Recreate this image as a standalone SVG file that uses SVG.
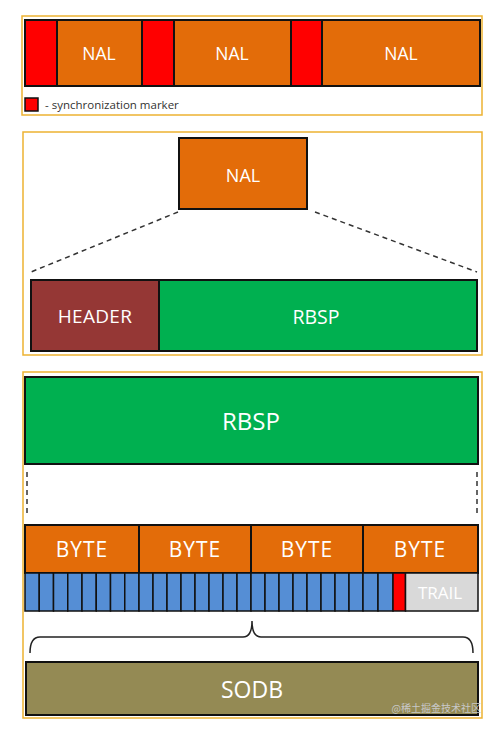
<svg xmlns="http://www.w3.org/2000/svg" width="498" height="734" viewBox="0 0 498 734">
<style>
.panel{fill:#fff;stroke:#EDB232;stroke-width:1.5}
.box{stroke:#111;stroke-width:2}
.org{fill:#E36C09}
.red{fill:#FF0000}
.grn{fill:#00B050}
.hdr{fill:#953735}
.sodb{fill:#948A54}
.bit{fill:#558ED5;stroke:#111;stroke-width:1.5}
.lbl{font-family:"Open Sans","Noto Sans","Liberation Sans",sans-serif;fill:#FFFFFF;text-anchor:middle;dominant-baseline:central}
.dash{stroke:#333;stroke-width:1.5;stroke-dasharray:5,4;fill:none}
</style>
<rect width="498" height="734" fill="#fff"/>
<!-- panels -->
<rect class="panel" x="22" y="16" width="460" height="99"/>
<rect class="panel" x="23" y="132" width="459" height="223"/>
<rect class="panel" x="23" y="372" width="459" height="346"/>

<!-- top panel stream -->
<g id="stream">
<rect class="box red" x="25" y="20" width="32" height="66"/>
<rect class="box org" x="57" y="20" width="85" height="66"/>
<rect class="box red" x="142" y="20" width="32" height="66"/>
<rect class="box org" x="174" y="20" width="117" height="66"/>
<rect class="box red" x="291" y="20" width="31" height="66"/>
<rect class="box org" x="322" y="20" width="158" height="66"/>
<text class="lbl" x="99" y="53" font-size="17.5">NAL</text>
<text class="lbl" x="232" y="53" font-size="17.5">NAL</text>
<text class="lbl" x="401" y="53" font-size="17.5">NAL</text>
</g>
<g id="legend">
<rect x="25" y="98" width="13" height="13" fill="#FF0000" stroke="#111" stroke-width="1.5"/>
<text x="45" y="108.5" font-family="Open Sans,Noto Sans,Liberation Sans,sans-serif" font-size="11.5" fill="#333">- synchronization marker</text>
</g>

<!-- middle panel -->
<g id="nal">
<rect class="box org" x="179" y="138" width="128" height="71"/>
<text class="lbl" x="243" y="175" font-size="18">NAL</text>
</g>
<g id="header">
<rect class="box hdr" x="31" y="280" width="128" height="71"/>
<text class="lbl" x="95" y="316" font-size="19" letter-spacing="0.3">HEADER</text>
</g>
<g id="rbsp1">
<rect class="box grn" x="159" y="280" width="318" height="71"/>
<text class="lbl" x="316" y="316" font-size="19.5">RBSP</text>
</g>

<!-- bottom panel -->
<g id="rbsp2">
<rect class="box grn" x="25" y="377" width="453" height="87" stroke-width="2.5"/>
<text class="lbl" x="251" y="420" font-size="24">RBSP</text>
</g>
<g id="bytes">
<rect class="box org" x="25" y="525" width="114" height="48"/>
<rect class="box org" x="139" y="525" width="112" height="48"/>
<rect class="box org" x="251" y="525" width="112" height="48"/>
<rect class="box org" x="363" y="525" width="115" height="48"/>
<text class="lbl" x="82" y="549" font-size="21" letter-spacing="1">BYTE</text>
<text class="lbl" x="195" y="549" font-size="21" letter-spacing="1">BYTE</text>
<text class="lbl" x="307" y="549" font-size="21" letter-spacing="1">BYTE</text>
<text class="lbl" x="420" y="549" font-size="21" letter-spacing="1">BYTE</text>
</g>
<g id="bits">
<rect x="25" y="573" width="453" height="38" fill="#111"/>
<rect class="bit" x="25" y="573" width="14.25" height="38"/>
<rect class="bit" x="39.25" y="573" width="14.25" height="38"/>
<rect class="bit" x="53.5" y="573" width="14.25" height="38"/>
<rect class="bit" x="67.75" y="573" width="14.25" height="38"/>
<rect class="bit" x="82" y="573" width="14.25" height="38"/>
<rect class="bit" x="96.25" y="573" width="14.25" height="38"/>
<rect class="bit" x="110.5" y="573" width="14.25" height="38"/>
<rect class="bit" x="124.75" y="573" width="14.25" height="38"/>
<rect class="bit" x="139" y="573" width="14" height="38"/>
<rect class="bit" x="153" y="573" width="14" height="38"/>
<rect class="bit" x="167" y="573" width="14" height="38"/>
<rect class="bit" x="181" y="573" width="14" height="38"/>
<rect class="bit" x="195" y="573" width="14" height="38"/>
<rect class="bit" x="209" y="573" width="14" height="38"/>
<rect class="bit" x="223" y="573" width="14" height="38"/>
<rect class="bit" x="237" y="573" width="14" height="38"/>
<rect class="bit" x="251" y="573" width="14" height="38"/>
<rect class="bit" x="265" y="573" width="14" height="38"/>
<rect class="bit" x="279" y="573" width="14" height="38"/>
<rect class="bit" x="293" y="573" width="14" height="38"/>
<rect class="bit" x="307" y="573" width="14" height="38"/>
<rect class="bit" x="321" y="573" width="14" height="38"/>
<rect class="bit" x="335" y="573" width="14" height="38"/>
<rect class="bit" x="349" y="573" width="14" height="38"/>
<rect class="bit" x="363" y="573" width="15" height="38"/>
<rect class="bit" x="378" y="573" width="15" height="38"/>
<rect x="393" y="573" width="12.5" height="38" fill="#FF0000" stroke="#111" stroke-width="1.5"/>
<rect x="405.5" y="573" width="72.5" height="38" fill="#D9D9D9" stroke="#111" stroke-width="1.5"/>
<text class="lbl" x="440" y="592" font-size="17">TRAIL</text>
</g>
<g id="sodb">
<rect class="box sodb" x="26" y="662" width="452" height="53" stroke-width="2.5"/>
<text class="lbl" x="252" y="689" font-size="23">SODB</text>
</g>

<!-- connectors -->
<g id="connectors">
<line class="dash" x1="178" y1="212" x2="31" y2="272"/>
<line class="dash" x1="315" y1="212" x2="477" y2="272"/>
<line class="dash" x1="27" y1="472" x2="27" y2="517"/>
<line class="dash" x1="477" y1="472" x2="477" y2="517"/>
<path d="M30,653 Q30,637 40,637 L243,637 Q252,637 252,621 Q252,637 261,637 L463,637 Q473,637 473,653" fill="none" stroke="#222" stroke-width="1.5"/>
</g>

<text x="481" y="712" text-anchor="end" font-family="Noto Sans CJK SC,sans-serif" font-size="10" fill="#C8C8C8">@稀土掘金技术社区</text>
</svg>
